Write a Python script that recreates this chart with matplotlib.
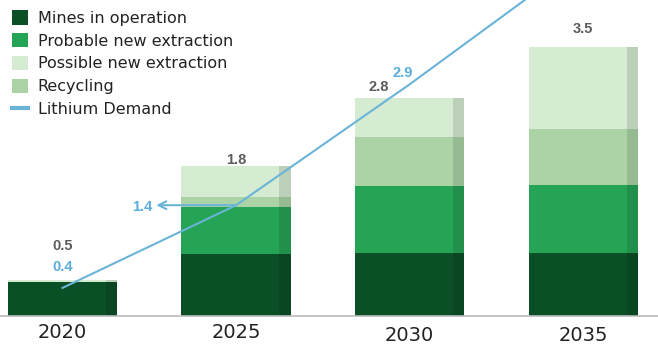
import numpy as np
import matplotlib.pyplot as plt
from matplotlib.patches import Patch
from matplotlib.lines import Line2D
import matplotlib.colors as mcolors
import matplotlib.transforms as mtrans

years = ["2020", "2025", "2030", "2035"]
mines = [0.44, 0.80, 0.81, 0.81]
probable = [0.00, 0.60, 0.85, 0.87]
recycling = [0.00, 0.12, 0.64, 0.72]
possible = [0.02, 0.40, 0.49, 1.05]
demand = [0.36, 1.42, 2.97, 4.60]
totals_txt = ["0.5", "1.8", "2.8", "3.5"]

c_mines = "#0b4f27"
c_prob = "#25a455"
c_recy = "#abd3a5"
c_poss = "#d5ebd2"
c_line = "#6ab4d8"
c_blue_txt = "#5aaede"
c_gray_txt = "#5c5c5c"


def darker(c, f=0.88):
    r, g, b = mcolors.to_rgb(c)
    return (r * f, g * f, b * f)


fig = plt.figure(figsize=(6.58, 3.5), dpi=100)
ax = fig.add_axes([0, 34 / 350, 1, 316 / 350])

x = np.arange(len(years))
w = 0.63
sw = 0.066  # darker strip on the right side of each bar

bottom = np.zeros(len(years))
for vals, col in [(mines, c_mines), (probable, c_prob), (recycling, c_recy), (possible, c_poss)]:
    vals = np.array(vals)
    ax.bar(x, vals, w, bottom=bottom, color=col, edgecolor="none", zorder=2)
    ax.bar(x + w / 2 - sw, vals, sw, bottom=bottom, align="edge",
           color=darker(col), edgecolor="none", zorder=2)
    bottom += vals

# lithium demand line
ax.plot(x, demand, color=c_line, lw=1.5, zorder=3, clip_on=True)

# arrow pointing at the 2025 demand value
ax.annotate("", xy=(0.54, demand[1]), xytext=(x[1], demand[1]),
            arrowprops=dict(arrowstyle="->", color=c_line, lw=1.5,
                            mutation_scale=14, shrinkA=0, shrinkB=0), zorder=3)

lab_font = dict(family=["Liberation Sans Narrow", "Liberation Sans"], fontsize=10.5,
                fontweight="bold", ha="center", va="center")
ax.text(0, 0.90, totals_txt[0], color=c_gray_txt, **lab_font)
ax.text(0, 0.63, "0.4", color=c_blue_txt, **lab_font)
ax.text(1, 2.00, totals_txt[1], color=c_gray_txt, **lab_font)
ax.text(0.46, 1.40, "1.4", color=c_blue_txt, **lab_font)
ax.text(1.82, 2.94, totals_txt[2], color=c_gray_txt, **lab_font)
ax.text(1.96, 3.12, "2.9", color=c_blue_txt, **lab_font)
ax.text(3, 3.68, totals_txt[3], color=c_gray_txt, **lab_font)

ax.set_xlim(-0.36, 3.43)
ax.set_ylim(0, 4.05)
ax.set_yticks([])
ax.set_xticks(x)
ax.set_xticklabels(years, fontsize=14, color="#222222")
ax.tick_params(axis="x", length=0, pad=5)
# the later years sit a little lower in the original
for i, lbl in enumerate(ax.get_xticklabels()):
    if i >= 2:
        lbl.set_transform(lbl.get_transform() + mtrans.ScaledTranslation(0, -0.03, fig.dpi_scale_trans))

for s in ["top", "right", "left"]:
    ax.spines[s].set_visible(False)
ax.spines["bottom"].set_color("#bbbbbb")
ax.spines["bottom"].set_linewidth(1.2)

handles = [
    Patch(facecolor=c_mines, label="Mines in operation"),
    Patch(facecolor=c_prob, label="Probable new extraction"),
    Patch(facecolor=c_poss, label="Possible new extraction"),
    Patch(facecolor=c_recy, label="Recycling"),
    Line2D([0], [0], color=c_line, lw=3, label="Lithium Demand"),
]
leg = fig.legend(handles=handles, loc="upper left", bbox_to_anchor=(0.0085, 0.989),
                 frameon=False, fontsize=11.5, handlelength=1.0, handleheight=1.0,
                 handletextpad=0.6, labelspacing=0.45, borderaxespad=0)
for t in leg.get_texts():
    t.set_color("#222222")

fig.savefig("out.png", dpi=100)
